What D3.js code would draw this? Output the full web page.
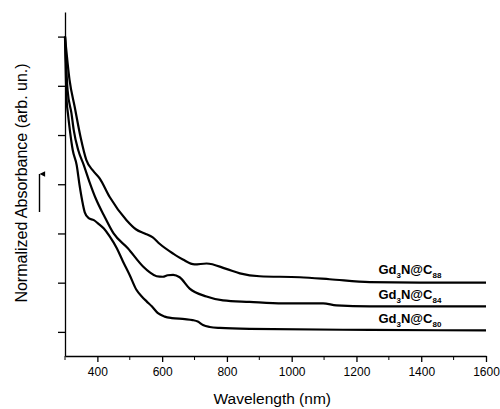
<!DOCTYPE html>
<html>
<head>
<meta charset="utf-8">
<script src="https://cdn.jsdelivr.net/npm/d3@7"></script>
<style>
  body { margin: 0; background: #fff; }
  svg { display: block; font-family: "Liberation Sans", Arial, sans-serif; }
</style>
</head>
<body>
<div id="chart"></div>
<script>
// wavelength (nm) / normalized absorbance (arb. un.)
const wlC88 = [300, 314, 330, 348, 366, 386, 407, 438, 490, 520, 546, 571, 592, 634, 664, 700, 737, 798, 840, 901, 1025, 1117, 1241, 1395, 1600];
const absC88 = [6.00, 5.12, 4.57, 3.96, 3.49, 3.28, 3.12, 2.74, 2.27, 2.08, 2.00, 1.92, 1.79, 1.59, 1.47, 1.37, 1.39, 1.28, 1.19, 1.13, 1.11, 1.07, 1.01, 1.00, 1.00];

const wlC84 = [300, 308, 320, 327, 341, 358, 376, 395, 420, 450, 494, 541, 562, 583, 602, 617, 634, 654, 685, 737, 788, 870, 973, 1097, 1138, 1241, 1600];
const absC84 = [6.00, 4.91, 4.44, 4.10, 3.69, 3.39, 3.04, 2.71, 2.37, 2.00, 1.70, 1.33, 1.21, 1.13, 1.12, 1.15, 1.16, 1.11, 0.88, 0.72, 0.64, 0.61, 0.58, 0.58, 0.54, 0.52, 0.52];

const wlC80 = [300, 305, 309, 315, 324, 336, 345, 353, 361, 373, 389, 401, 420, 438, 460, 479, 500, 520, 537, 552, 568, 587, 608, 630, 670, 694, 710, 726, 747, 778, 870, 1241, 1600];
const absC80 = [6.00, 4.71, 4.44, 4.10, 3.69, 3.39, 2.98, 2.67, 2.43, 2.31, 2.27, 2.21, 2.10, 1.94, 1.70, 1.43, 1.15, 0.86, 0.72, 0.62, 0.52, 0.38, 0.31, 0.28, 0.26, 0.24, 0.21, 0.14, 0.10, 0.08, 0.06, 0.04, 0.03];

const seriesNames = ["C88", "C84", "C80"];
const xMajorTicks = [400, 600, 800, 1000, 1200, 1400, 1600];
const xMinorTicks = [300, 500, 700, 900, 1100, 1300, 1500];
const yTicks = [0, 1, 2, 3, 4, 5, 6];

const W = 500, H = 409;
const margin = { top: 12, left: 65, right: 14, bottom: 53 };
const width = W - margin.left - margin.right;
const height = H - margin.top - margin.bottom;

const svg = d3.select("#chart").append("svg")
    .attr("width", W)
    .attr("height", H);

const g = svg.append("g")
    .attr("transform", `translate(${margin.left},${margin.top})`);

const x = d3.scaleLinear().domain([300, 1600]).range([0, width]);
const y = d3.scaleLinear().domain([-0.49, 6.5]).range([height, 0]);

// x axis: major + minor ticks
const xAxis = g.append("g")
    .attr("transform", `translate(0,${height})`)
    .call(d3.axisBottom(x).tickValues(xMajorTicks).tickFormat(d3.format("d"))
        .tickSize(6).tickSizeOuter(0).tickPadding(5));
xAxis.selectAll("text").style("font-size", "12px").attr("fill", "#000");
xAxis.append("g").selectAll("line")
    .data(xMinorTicks)
    .join("line")
    .attr("x1", d => x(d)).attr("x2", d => x(d))
    .attr("y1", 0).attr("y2", 4)
    .attr("stroke", "#000");

// y axis: ticks without labels
const yAxis = g.append("g")
    .call(d3.axisLeft(y).tickValues(yTicks).tickSize(7).tickSizeOuter(0).tickFormat(""));

g.selectAll(".domain, .tick line").attr("stroke", "#000").attr("stroke-width", 1.3);

// curves
const line = d3.line()
    .x(d => x(d[0]))
    .y(d => y(d[1]))
    .curve(d3.curveMonotoneX);

const seriesData = [
    d3.zip(wlC88, absC88),
    d3.zip(wlC84, absC84),
    d3.zip(wlC80, absC80)
];

g.selectAll(".curve")
    .data(seriesData)
    .join("path")
    .attr("class", "curve")
    .attr("fill", "none")
    .attr("stroke", "#000")
    .attr("stroke-width", 2.2)
    .attr("stroke-linejoin", "round")
    .attr("d", line);

// labels Gd3N@Cxx sitting above each curve's tail
const labelY = [1.18, 0.66, 0.18];
const labels = g.selectAll(".lbl")
    .data(seriesNames)
    .join("text")
    .attr("class", "lbl")
    .attr("x", x(1268))
    .attr("y", (d, i) => y(labelY[i]))
    .style("font-size", "13px")
    .style("font-weight", "bold");
labels.append("tspan").text("Gd");
labels.append("tspan").text("3").attr("dy", 4).style("font-size", "8px");
labels.append("tspan").text("N@C").attr("dy", -4);
labels.append("tspan").text(d => d.slice(1)).attr("dy", 4).style("font-size", "8px");

// axis titles
svg.append("text")
    .attr("x", margin.left + x(940))
    .attr("y", 404)
    .attr("text-anchor", "middle")
    .style("font-size", "15.5px")
    .text("Wavelength (nm)");

svg.append("text")
    .attr("transform", `translate(27,183) rotate(-90)`)
    .attr("text-anchor", "middle")
    .style("font-size", "16px")
    .text("Normalized Absorbance (arb. un.)");

// upward arrow next to y title
svg.append("defs").append("marker")
    .attr("id", "head")
    .attr("viewBox", "0 0 10 10")
    .attr("refX", 5).attr("refY", 0)
    .attr("markerWidth", 4).attr("markerHeight", 6)
    .attr("orient", "auto-start-reverse")
    .append("path")
    .attr("d", "M0,10 L5,0 L10,10 Z")
    .attr("fill", "#000");

svg.append("line")
    .attr("x1", 39.5).attr("x2", 39.5)
    .attr("y1", 212).attr("y2", 174)
    .attr("stroke", "#000")
    .attr("stroke-width", 1.4)
    .attr("marker-end", "url(#head)");
</script>
</body>
</html>
